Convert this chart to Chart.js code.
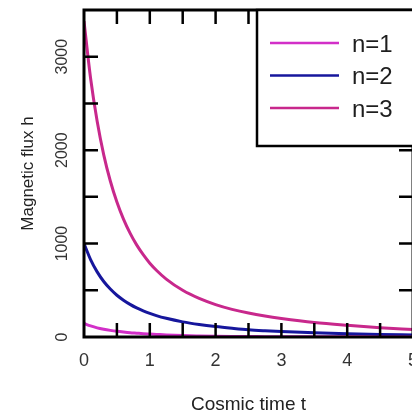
<!DOCTYPE html>
<html>
<head>
<meta charset="utf-8">
<script src="https://cdn.jsdelivr.net/npm/chart.js@4"></script>
<style>
  html, body { margin: 0; padding: 0; background: #fff; overflow: hidden; }
  #wrap { width: 418px; height: 417px; }
</style>
</head>
<body>
<div id="wrap"><canvas id="myChart" width="418" height="417"></canvas></div>
<script>
//** DATA */
const cosmicTime = [0, 0.1, 0.2, 0.3, 0.4, 0.5, 0.6, 0.7, 0.8, 0.9, 1.0, 1.1, 1.25, 1.5, 1.75, 2.0, 2.25, 2.5, 2.75, 3.0, 3.5, 4.0, 4.5, 5.0];
const fluxN1 = [145, 119, 98, 83, 71, 61, 53, 46, 41, 36, 32, 28, 22, 15, 11, 8, 6, 5, 4, 3, 2, 2, 1, 1];
const fluxN2 = [1000, 828, 697, 594, 513, 447, 394, 349, 311, 280, 253, 229, 200, 162, 134, 112, 94, 78, 67, 58, 45, 35, 27, 22];
const fluxN3 = [3380, 2770, 2310, 1950, 1670, 1445, 1262, 1112, 986, 881, 790, 715, 620, 500, 413, 347, 296, 256, 224, 198, 155, 125, 100, 80];
const seriesLabels = ["n=1", "n=2", "n=3"];
const xTickLabels = [0, 1, 2, 3, 4, 5];
const yTickLabels = [0, 1000, 2000, 3000];
const xTickMarks = [0.5, 1, 1.5, 2, 2.5, 3, 3.5, 4, 4.5];
const yTickMarks = [500, 1000, 1500, 2000, 2500, 3000];

const seriesColors = ["#d22fc8", "#16169c", "#c8288c"];
const fontFamily = "'Liberation Sans', Arial, sans-serif";

function toPoints(values) {
  return cosmicTime.map((t, i) => ({ x: t, y: values[i] }));
}

//** FRAME WITH INWARD TICKS ON ALL FOUR SIDES */
const framePlugin = {
  id: 'frame',
  afterDatasetsDraw(chart) {
    const { ctx, chartArea: a, scales } = chart;
    const len = 14;
    ctx.save();
    ctx.strokeStyle = '#000';
    ctx.lineWidth = 2.5;
    ctx.beginPath();
    xTickMarks.forEach(v => {
      const px = scales.x.getPixelForValue(v);
      ctx.moveTo(px, a.bottom); ctx.lineTo(px, a.bottom - len);
      ctx.moveTo(px, a.top); ctx.lineTo(px, a.top + len);
    });
    yTickMarks.forEach(v => {
      const py = scales.y.getPixelForValue(v);
      ctx.moveTo(a.left, py); ctx.lineTo(a.left + len, py);
      ctx.moveTo(a.right, py); ctx.lineTo(a.right - len, py);
    });
    ctx.stroke();
    ctx.lineWidth = 3;
    ctx.strokeRect(a.left, a.top, a.right - a.left, a.bottom - a.top);
    ctx.restore();
  }
};

//** BOXED LEGEND IN THE TOP RIGHT CORNER */
const boxLegendPlugin = {
  id: 'boxLegend',
  afterDraw(chart) {
    const { ctx, chartArea: a } = chart;
    const left = 257, top = a.top, bottom = 146;
    ctx.save();
    ctx.fillStyle = '#fff';
    ctx.fillRect(left, top, chart.width - left + 10, bottom - top);
    ctx.strokeStyle = '#000';
    ctx.lineWidth = 2.5;
    ctx.strokeRect(left, top, chart.width - left + 10, bottom - top);
    ctx.font = '24px ' + fontFamily;
    ctx.textBaseline = 'middle';
    ctx.textAlign = 'left';
    chart.data.datasets.forEach((ds, i) => {
      const y = 43 + i * 32.5;
      ctx.strokeStyle = ds.borderColor;
      ctx.lineWidth = 2.6;
      ctx.beginPath();
      ctx.moveTo(270, y);
      ctx.lineTo(339, y);
      ctx.stroke();
      ctx.fillStyle = '#1e1e1e';
      ctx.fillText(ds.label, 352, y + 2);
    });
    ctx.restore();
  }
};

const data = {
  datasets: [
    { label: seriesLabels[0], data: toPoints(fluxN1), borderColor: seriesColors[0] },
    { label: seriesLabels[1], data: toPoints(fluxN2), borderColor: seriesColors[1] },
    { label: seriesLabels[2], data: toPoints(fluxN3), borderColor: seriesColors[2] },
  ],
};

const config = {
  type: 'line',
  data: data,
  options: {
    responsive: false,
    animation: false,
    devicePixelRatio: 1,
    layout: { padding: { top: 10, right: 5, left: 0, bottom: 0 } },
    elements: {
      point: { radius: 0 },
      line: { borderWidth: 3, cubicInterpolationMode: 'monotone', fill: false },
    },
    plugins: {
      legend: { display: false },
      tooltip: { enabled: false },
    },
    scales: {
      x: {
        type: 'linear',
        min: 0,
        max: 5,
        afterBuildTicks: s => { s.ticks = xTickLabels.map(v => ({ value: v })); },
        afterFit: s => { s.height = 80; s.paddingLeft = 0; s.paddingRight = 0; },
        grid: { display: false, drawTicks: false },
        border: { display: false },
        ticks: {
          color: '#333',
          padding: 13,
          maxRotation: 0,
          callback: v => String(v),
          font: { size: 18, family: fontFamily },
        },
        title: {
          display: true,
          text: 'Cosmic time t',
          color: '#222',
          padding: { top: 0, bottom: 1 },
          font: { size: 19, family: fontFamily },
        },
      },
      y: {
        min: 0,
        max: 3500,
        afterBuildTicks: s => { s.ticks = yTickLabels.map(v => ({ value: v })); },
        afterFit: s => { s.width = 84; s.paddingTop = 0; s.paddingBottom = 0; },
        grid: { display: false, drawTicks: false },
        border: { display: false },
        ticks: {
          color: '#333',
          padding: 4,
          minRotation: 90,
          maxRotation: 90,
          crossAlign: 'center',
          callback: v => String(v),
          font: { size: 16, family: fontFamily },
        },
        title: {
          display: true,
          text: 'Magnetic flux h',
          color: '#222',
          padding: { top: 18, bottom: 0 },
          font: { size: 17, family: fontFamily },
        },
      },
    },
  },
  plugins: [framePlugin, boxLegendPlugin],
};

const chart = new Chart(document.getElementById('myChart'), config);
</script>
</body>
</html>
